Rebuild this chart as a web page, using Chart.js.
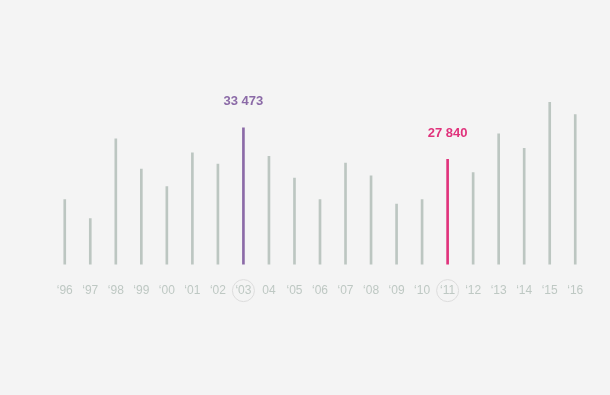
<!DOCTYPE html>
<html>
<head>
<meta charset="utf-8">
<script src="https://cdn.jsdelivr.net/npm/chart.js@4.4.1/dist/chart.umd.min.js"></script>
<style>
    html, body { margin: 0; padding: 0; background: #f4f4f4; }
    #wrap { width: 610px; height: 395px; }
</style>
</head>
<body>
<div id="wrap"><canvas id="yearChart"></canvas></div>
<script>
// Year labels and values
const years = ['\u201896', '\u201897', '\u201898', '\u201899', '\u201800', '\u201801', '\u201802', '\u201803', '04', '\u201805',
    '\u201806', '\u201807', '\u201808', '\u201809', '\u201810', '\u201811', '\u201812', '\u201813', '\u201814', '\u201815', '\u201816'];
const values = [20700, 17300, 31500, 26100, 23000, 29000, 27000, 33473, 28400, 24500,
    20700, 27200, 24900, 19900, 20700, 27840, 25500, 32400, 29800, 38000, 35800];
const highlighted = { 7: '#8b6aa7', 15: '#e0337c' };

const barColors = values.map((v, i) => highlighted[i] || '#bcc6c1');

// Draws the value above highlighted bars and a ring round their year label
const highlightPlugin = {
    id: 'highlight',
    afterDatasetsDraw(chart) {
        const ctx = chart.ctx;
        const meta = chart.getDatasetMeta(0);
        const xScale = chart.scales.x;
        ctx.save();
        Object.keys(highlighted).forEach(key => {
            const i = Number(key);
            const bar = meta.data[i];
            ctx.fillStyle = highlighted[i];
            ctx.font = 'bold 13px "Liberation Sans", Arial, sans-serif';
            ctx.textAlign = 'center';
            ctx.textBaseline = 'middle';
            ctx.fillText(values[i].toLocaleString('en-US').replace(',', ' '), bar.x, bar.y - 26);

            ctx.strokeStyle = '#dcdcdc';
            ctx.lineWidth = 1;
            ctx.beginPath();
            ctx.arc(xScale.getPixelForValue(i), chart.chartArea.bottom + 26, 11, 0, Math.PI * 2);
            ctx.stroke();
        });
        ctx.restore();
    }
};

new Chart(document.getElementById('yearChart'), {
    type: 'bar',
    data: {
        labels: years,
        datasets: [{
            data: values,
            backgroundColor: barColors,
            barThickness: 2,
            borderWidth: 0
        }]
    },
    options: {
        responsive: true,
        maintainAspectRatio: false,
        animation: false,
        layout: { padding: { left: 52, right: 22, top: 90, bottom: 86 } },
        plugins: { legend: { display: false }, tooltip: { enabled: false } },
        scales: {
            x: {
                grid: { display: false },
                border: { display: false },
                ticks: {
                    color: '#bec8c3',
                    font: { size: 12, family: '"Liberation Sans", Arial, sans-serif' },
                    padding: 11,
                    maxRotation: 0,
                    autoSkip: false
                }
            },
            y: {
                display: false,
                min: 9100,
                max: 40200
            }
        }
    },
    plugins: [highlightPlugin]
});
</script>
</body>
</html>
